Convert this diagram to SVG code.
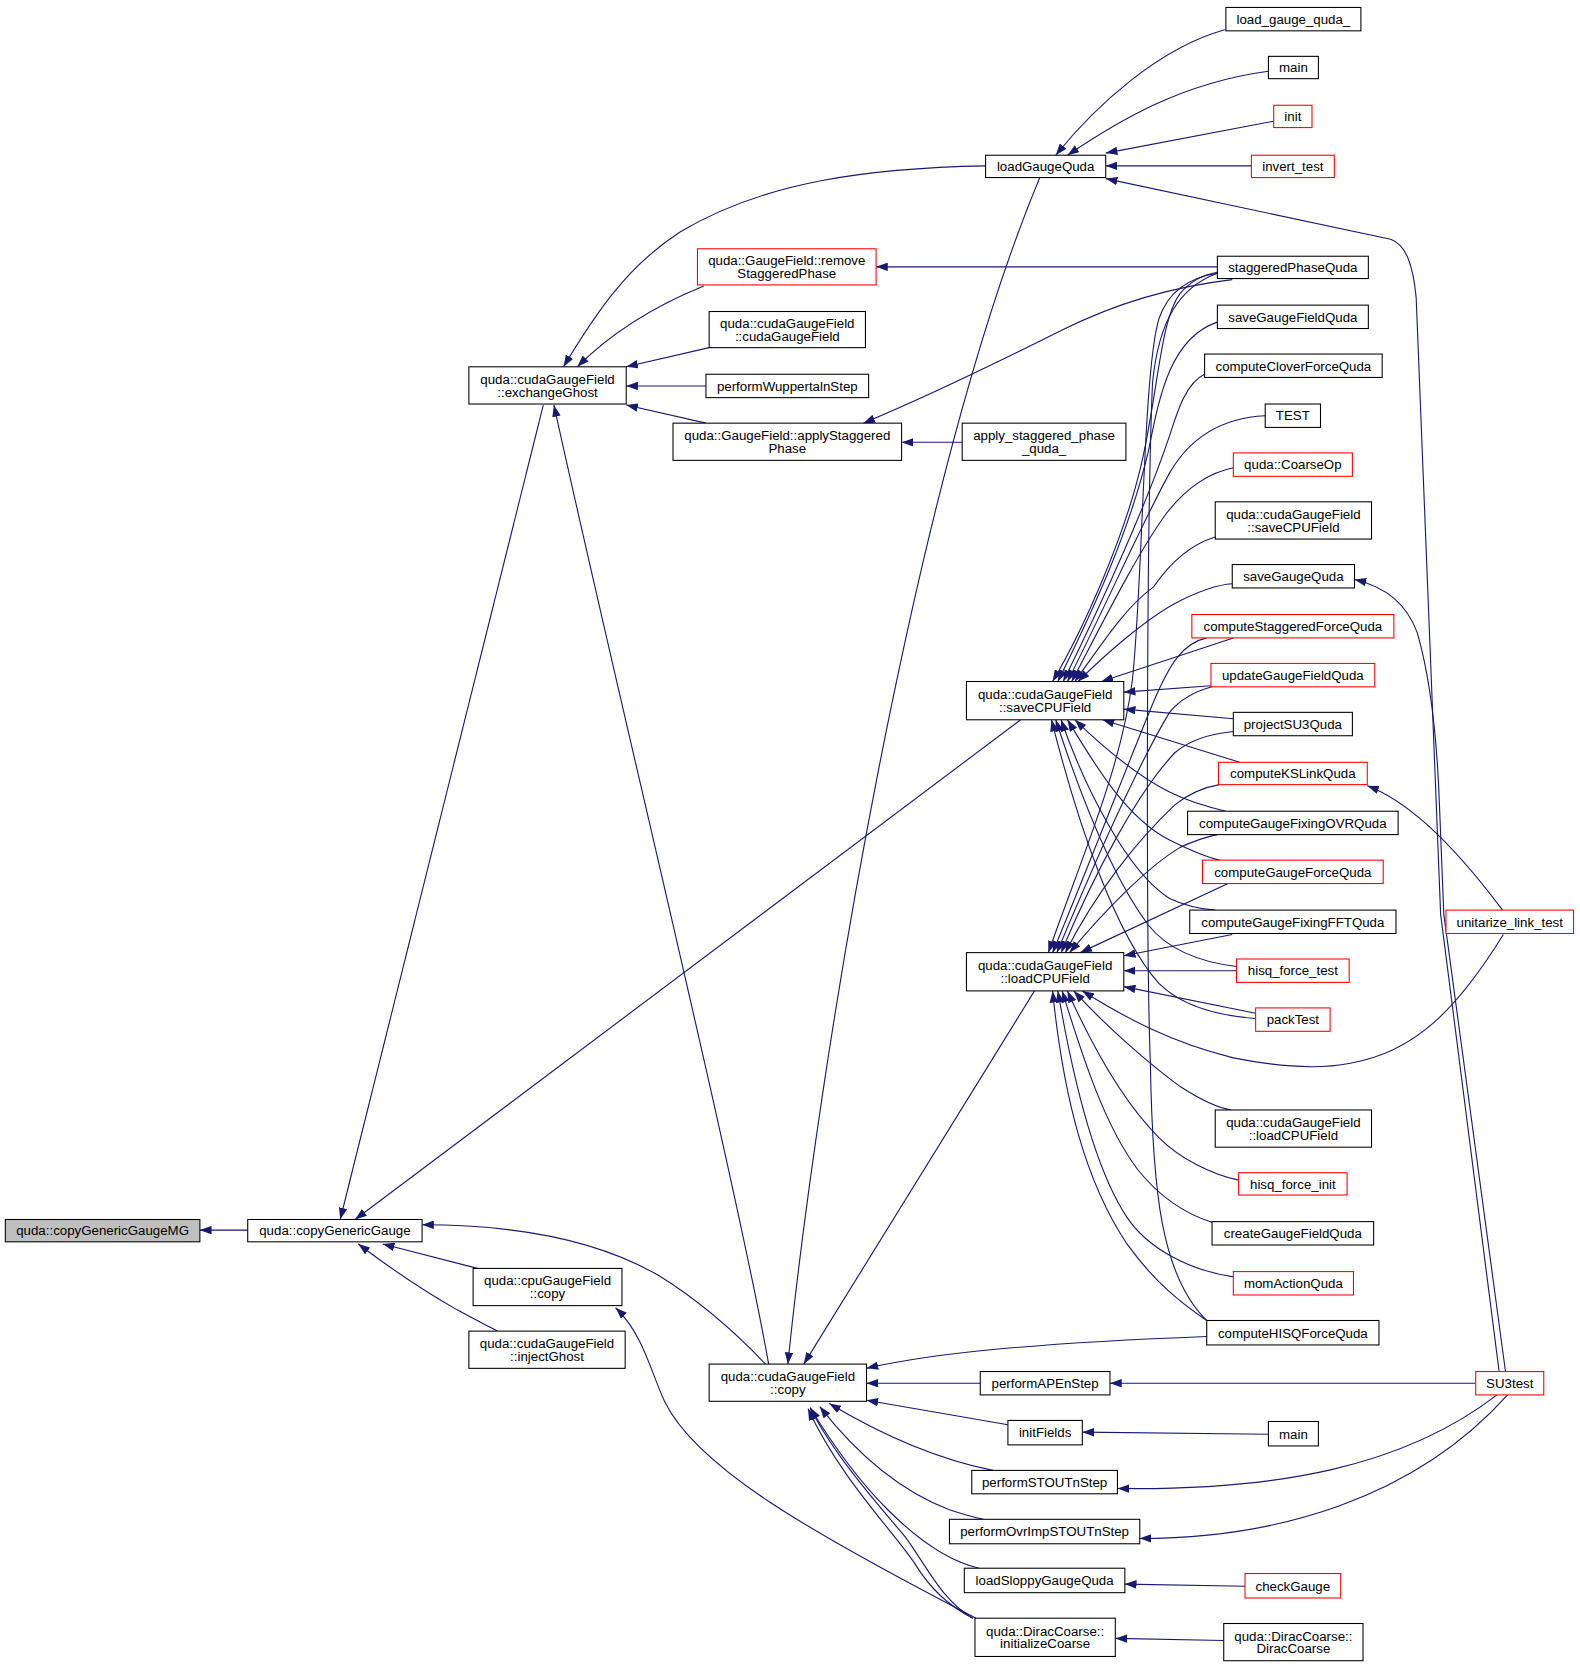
<svg xmlns="http://www.w3.org/2000/svg" width="1580" height="1667" viewBox="0 0 1580 1667">
<defs>
<style>
.n rect{fill:#ffffff;stroke:#000000;stroke-width:1}
.n.r rect{stroke:#ff0000}
.n.g rect{fill:#bfbfbf}
text{font-family:"Liberation Sans",Arial,Helvetica,sans-serif;font-size:12.5px;text-anchor:middle;fill:#000000}
#edges path{fill:none;stroke:#191970;stroke-width:1.05;marker-start:url(#a)}
#edges path.x{marker-start:none}
</style>
<marker id="a" markerWidth="11" markerHeight="8" refX="11" refY="4" orient="auto-start-reverse" markerUnits="userSpaceOnUse"><path d="M0,0 L11,4 L0,8 z" fill="#191970"/></marker>
</defs>
<rect x="0" y="0" width="1580" height="1667" fill="#ffffff"/>
<g transform="scale(1.0632)">
<g id="edges">
<path d="M188,1157 L233,1157"/>
<path d="M320,1147 L511,381"/>
<path d="M334,1147 L960,677"/>
<path d="M397,1152 C480,1152 560,1165 620,1200 C665,1228 700,1262 720,1283"/>
<path d="M360,1170 L449,1193"/>
<path d="M337,1170 C370,1195 400,1215 430,1232 C445,1240 458,1247 468,1252"/>
<path d="M530,345 C560,295 590,250 640,218 C720,170 820,158 927,156"/>
<path d="M543,345 C570,318 610,290 662,269"/>
<path d="M589,345 L667,327"/>
<path d="M589,363 L664,363"/>
<path d="M589,381 L664,398"/>
<path d="M521,381 C580,650 690,1100 723,1283"/>
<path d="M824,251 L1145,251"/>
<path d="M812,398 C880,370 960,330 1000,310 C1050,285 1100,270 1159,263"/>
<path d="M848,416 L905,416"/>
<path d="M993,146 C1030,100 1090,45 1152,28"/>
<path d="M1004,146 C1050,115 1110,78 1193,67"/>
<path d="M1040,144 L1198,114"/>
<path d="M1040,156 L1177,156"/>
<path d="M1040,168 L1308,225 C1322,230 1329,248 1332,280 L1355,860 L1410,1290"/>
<path d="M1274,545 C1300,551 1322,565 1333,595 C1346,640 1352,700 1354,760 L1358,860 L1416,1290"/>
<path d="M1286,739 C1320,752 1360,785 1414,857"/>
<path d="M741,1283 C770,1000 860,450 978,167"/>
<path d="M756,1283 L973,932"/>
<path d="M815,1287 C880,1272 980,1263 1135,1257"/>
<path d="M815,1301 L922,1301"/>
<path d="M815,1317 L948,1340"/>
<path d="M780,1320 C830,1350 880,1372 934,1383"/>
<path d="M771,1323 C800,1360 840,1400 893,1420 C905,1424 915,1427 925,1429"/>
<path d="M762,1324 C790,1370 815,1400 835,1420 C860,1445 890,1468 921,1475"/>
<path d="M762,1324 C785,1370 830,1420 851,1445 C870,1470 885,1505 915,1522"/>
<path d="M760,1325 C790,1390 840,1440 860,1470 C875,1495 895,1512 915,1522"/>
<path d="M579,1230 C605,1255 612,1290 625,1318 C655,1380 760,1440 918,1522"/>
<path d="M1044,1301 L1388,1301"/>
<path d="M1018,1347 L1193,1349"/>
<path d="M1051,1400 C1200,1402 1320,1380 1408,1312"/>
<path d="M1072,1447 C1200,1447 1330,1410 1418,1312"/>
<path d="M1058,1490 L1171,1492"/>
<path d="M1049,1541 L1151,1543"/>
<path d="M990,641 C1020,590 1060,500 1075,430 C1090,360 1092,300 1110,276 C1120,264 1133,258 1145,256"/>
<path d="M995,641 C1030,570 1062,500 1080,425 C1090,375 1100,318 1145,303"/>
<path d="M1000,641 C1040,560 1080,470 1100,410 C1108,385 1116,360 1133,352"/>
<path d="M1004,641 C1040,570 1075,490 1100,445 C1120,410 1150,393 1190,391"/>
<path d="M1008,641 C1040,580 1070,520 1097,483 C1115,460 1135,445 1160,440"/>
<path d="M1011,641 C1040,600 1060,570 1085,552 C1100,530 1120,512 1143,505"/>
<path d="M1014,641 C1040,615 1080,580 1110,565 C1130,555 1145,550 1159,549"/>
<path d="M1036,641 L1160,600"/>
<path d="M1057,651 L1139,645"/>
<path d="M1057,667 L1160,676"/>
<path d="M1037,677 L1166,717"/>
<path d="M1011,677 C1040,705 1070,730 1100,745 C1120,755 1140,760 1153,763"/>
<path d="M1004,677 C1030,720 1060,770 1100,790 C1120,800 1135,806 1147,809"/>
<path d="M998,677 C1020,740 1060,820 1100,845 C1115,852 1130,855 1143,856"/>
<path d="M993,677 C1020,760 1050,830 1080,870 C1100,895 1130,905 1163,909"/>
<path d="M989,677 C1015,780 1050,880 1090,925 C1110,945 1140,955 1181,958"/>
<path d="M986,896 C1020,800 1055,720 1065,640 C1075,550 1075,350 1090,300 C1100,270 1125,260 1145,257"/>
<path d="M990,896 C1030,800 1060,720 1085,660 C1100,625 1112,605 1135,600"/>
<path d="M994,896 C1030,810 1070,720 1100,670 C1110,658 1125,650 1140,646"/>
<path d="M998,896 C1030,820 1070,745 1105,708 C1120,695 1140,690 1160,688"/>
<path d="M1002,896 C1030,840 1070,790 1105,757 C1120,745 1135,740 1147,738"/>
<path d="M1006,896 C1040,855 1080,815 1110,797 C1125,790 1135,787 1145,785"/>
<path d="M1016,896 L1155,831"/>
<path d="M1057,899 L1159,879"/>
<path d="M1057,913 L1163,913"/>
<path d="M1057,928 L1181,953"/>
<path d="M1018,932 C1060,958 1100,980 1160,995 C1200,1003 1240,1006 1270,1000 C1330,990 1370,950 1414,879"/>
<path d="M1010,932 C1040,965 1080,1000 1110,1022 C1130,1035 1145,1042 1158,1044"/>
<path d="M1004,932 C1030,990 1060,1040 1090,1070 C1110,1090 1140,1105 1165,1110"/>
<path d="M999,932 C1020,1000 1040,1060 1070,1100 C1090,1125 1115,1142 1141,1150"/>
<path d="M995,932 C1010,1020 1030,1100 1060,1145 C1080,1175 1120,1195 1160,1201"/>
<path d="M990,932 C1000,1030 1020,1110 1060,1170 C1085,1205 1110,1225 1135,1242"/>
<path class="x" d="M1145,257 C1110,270 1090,300 1084,360 C1078,500 1078,900 1082,1000 C1084,1120 1092,1200 1135,1242"/>
</g>
<g id="n0" class="n g"><rect x="5" y="1147" width="183" height="21"/><text x="96.5" y="1162">quda::copyGenericGaugeMG</text></g>
<g id="n1" class="n"><rect x="233" y="1147" width="164" height="21"/><text x="315" y="1162">quda::copyGenericGauge</text></g>
<g id="n2" class="n"><rect x="441" y="345" width="148" height="35"/><text x="515" y="361">quda::cudaGaugeField</text><text x="515" y="373">::exchangeGhost</text></g>
<g id="n3" class="n"><rect x="445" y="1193" width="140" height="35"/><text x="515" y="1209">quda::cpuGaugeField</text><text x="515" y="1221">::copy</text></g>
<g id="n4" class="n"><rect x="441" y="1252" width="147" height="35"/><text x="514.5" y="1268">quda::cudaGaugeField</text><text x="514.5" y="1280">::injectGhost</text></g>
<g id="n5" class="n"><rect x="667" y="1283" width="148" height="35"/><text x="741" y="1299">quda::cudaGaugeField</text><text x="741" y="1311">::copy</text></g>
<g id="n6" class="n r"><rect x="656" y="234" width="168" height="34"/><text x="740" y="249.5">quda::GaugeField::remove</text><text x="740" y="261.5">StaggeredPhase</text></g>
<g id="n7" class="n"><rect x="667" y="293" width="147" height="34"/><text x="740.5" y="308.5">quda::cudaGaugeField</text><text x="740.5" y="320.5">::cudaGaugeField</text></g>
<g id="n8" class="n"><rect x="664" y="352" width="153" height="22"/><text x="740.5" y="367.5">performWuppertalnStep</text></g>
<g id="n9" class="n"><rect x="633" y="398" width="215" height="35"/><text x="740.5" y="414">quda::GaugeField::applyStaggered</text><text x="740.5" y="426">Phase</text></g>
<g id="n10" class="n"><rect x="905" y="398" width="154" height="35"/><text x="982" y="414">apply_staggered_phase</text><text x="982" y="426">_quda_</text></g>
<g id="n11" class="n"><rect x="927" y="146" width="113" height="21"/><text x="983.5" y="161">loadGaugeQuda</text></g>
<g id="n12" class="n"><rect x="1153" y="7" width="127" height="22"/><text x="1216.5" y="22.5">load_gauge_quda_</text></g>
<g id="n13" class="n"><rect x="1193" y="53" width="47" height="21"/><text x="1216.5" y="68">main</text></g>
<g id="n14" class="n r"><rect x="1198" y="99" width="36" height="21"/><text x="1216" y="114">init</text></g>
<g id="n15" class="n r"><rect x="1177" y="146" width="78" height="21"/><text x="1216" y="161">invert_test</text></g>
<g id="n16" class="n"><rect x="1145" y="241" width="142" height="21"/><text x="1216" y="256">staggeredPhaseQuda</text></g>
<g id="n17" class="n"><rect x="1145" y="287" width="142" height="22"/><text x="1216" y="302.5">saveGaugeFieldQuda</text></g>
<g id="n18" class="n"><rect x="1133" y="333" width="167" height="22"/><text x="1216.5" y="348.5">computeCloverForceQuda</text></g>
<g id="n19" class="n"><rect x="1190" y="380" width="52" height="22"/><text x="1216" y="395.5">TEST</text></g>
<g id="n20" class="n r"><rect x="1160" y="426" width="112" height="22"/><text x="1216" y="441.5">quda::CoarseOp</text></g>
<g id="n21" class="n"><rect x="1143" y="472" width="147" height="35"/><text x="1216.5" y="488">quda::cudaGaugeField</text><text x="1216.5" y="500">::saveCPUField</text></g>
<g id="n22" class="n"><rect x="1159" y="531" width="115" height="22"/><text x="1216.5" y="546.5">saveGaugeQuda</text></g>
<g id="n23" class="n r"><rect x="1121" y="578" width="190" height="22"/><text x="1216" y="593.5">computeStaggeredForceQuda</text></g>
<g id="n24" class="n r"><rect x="1139" y="624" width="154" height="22"/><text x="1216" y="639.5">updateGaugeFieldQuda</text></g>
<g id="n25" class="n"><rect x="1160" y="670" width="112" height="22"/><text x="1216" y="685.5">projectSU3Quda</text></g>
<g id="n26" class="n r"><rect x="1146" y="717" width="140" height="21"/><text x="1216" y="732">computeKSLinkQuda</text></g>
<g id="n27" class="n"><rect x="1117" y="763" width="198" height="22"/><text x="1216" y="778.5">computeGaugeFixingOVRQuda</text></g>
<g id="n28" class="n r"><rect x="1131" y="809" width="170" height="22"/><text x="1216" y="824.5">computeGaugeForceQuda</text></g>
<g id="n29" class="n"><rect x="1119" y="856" width="194" height="22"/><text x="1216" y="871.5">computeGaugeFixingFFTQuda</text></g>
<g id="n30" class="n r"><rect x="1163" y="902" width="106" height="22"/><text x="1216" y="917.5">hisq_force_test</text></g>
<g id="n31" class="n r"><rect x="1181" y="948" width="70" height="22"/><text x="1216" y="963.5">packTest</text></g>
<g id="n32" class="n"><rect x="1143" y="1044" width="147" height="35"/><text x="1216.5" y="1060">quda::cudaGaugeField</text><text x="1216.5" y="1072">::loadCPUField</text></g>
<g id="n33" class="n r"><rect x="1165" y="1103" width="102" height="21"/><text x="1216" y="1118">hisq_force_init</text></g>
<g id="n34" class="n"><rect x="1140" y="1149" width="152" height="22"/><text x="1216" y="1164.5">createGaugeFieldQuda</text></g>
<g id="n35" class="n r"><rect x="1160" y="1196" width="113" height="22"/><text x="1216.5" y="1211.5">momActionQuda</text></g>
<g id="n36" class="n"><rect x="1135" y="1242" width="162" height="23"/><text x="1216" y="1258">computeHISQForceQuda</text></g>
<g id="n37" class="n"><rect x="909" y="641" width="148" height="36"/><text x="983" y="657.5">quda::cudaGaugeField</text><text x="983" y="669.5">::saveCPUField</text></g>
<g id="n38" class="n"><rect x="909" y="896" width="148" height="36"/><text x="983" y="912.5">quda::cudaGaugeField</text><text x="983" y="924.5">::loadCPUField</text></g>
<g id="n39" class="n r"><rect x="1360" y="856" width="120" height="22"/><text x="1420" y="871.5">unitarize_link_test</text></g>
<g id="n40" class="n r"><rect x="1388" y="1290" width="64" height="22"/><text x="1420" y="1305.5">SU3test</text></g>
<g id="n41" class="n"><rect x="922" y="1290" width="122" height="22"/><text x="983" y="1305.5">performAPEnStep</text></g>
<g id="n42" class="n"><rect x="948" y="1336" width="70" height="23"/><text x="983" y="1352">initFields</text></g>
<g id="n43" class="n"><rect x="1193" y="1337" width="47" height="23"/><text x="1216.5" y="1353">main</text></g>
<g id="n44" class="n"><rect x="914" y="1383" width="137" height="22"/><text x="982.5" y="1398.5">performSTOUTnStep</text></g>
<g id="n45" class="n"><rect x="893" y="1429" width="179" height="23"/><text x="982.5" y="1445">performOvrImpSTOUTnStep</text></g>
<g id="n46" class="n"><rect x="907" y="1475" width="151" height="23"/><text x="982.5" y="1491">loadSloppyGaugeQuda</text></g>
<g id="n47" class="n r"><rect x="1171" y="1480" width="90" height="23"/><text x="1216" y="1496">checkGauge</text></g>
<g id="n48" class="n"><rect x="917" y="1522" width="132" height="36"/><text x="983" y="1538.5">quda::DiracCoarse::</text><text x="983" y="1550.5">initializeCoarse</text></g>
<g id="n49" class="n"><rect x="1151" y="1527" width="131" height="35"/><text x="1216.5" y="1543">quda::DiracCoarse::</text><text x="1216.5" y="1555">DiracCoarse</text></g>
</g>
</svg>
